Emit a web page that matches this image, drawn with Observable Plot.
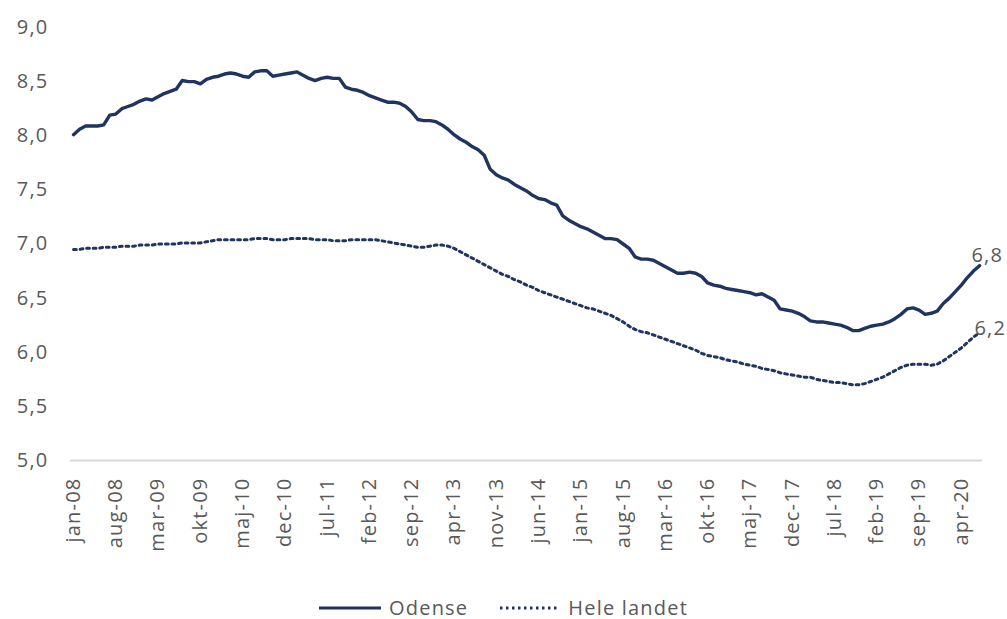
<!DOCTYPE html>
<html>
<head>
<meta charset="utf-8">
<script src="https://cdn.jsdelivr.net/npm/d3@7"></script>
<script src="https://cdn.jsdelivr.net/npm/@observablehq/plot@0.6"></script>
<style>
  body { margin: 0; background: #fff; font-family: "Open Sans", sans-serif; overflow: hidden; }
  #chart svg { display: block; }
  #legend { display: flex; justify-content: center; align-items: center; margin-top: 23px; height: 20px; line-height: 20px;
    font-size: 20px; letter-spacing: 1.2px; color: #595959; }
  #legend svg { display: block; }
</style>
</head>
<body>
<div id="chart"></div>
<div id="legend"></div>
<script>
// Monthly values, jan-08 .. jul-20
const odense = [
  8.01, 8.06, 8.09, 8.09, 8.09, 8.10, 8.19, 8.20, 8.25, 8.27,
  8.29, 8.32, 8.34, 8.33, 8.36, 8.39, 8.41, 8.43, 8.51, 8.50,
  8.50, 8.48, 8.52, 8.54, 8.55, 8.57, 8.58, 8.57, 8.55, 8.54,
  8.59, 8.60, 8.60, 8.55, 8.56, 8.57, 8.58, 8.59, 8.56, 8.53,
  8.51, 8.53, 8.54, 8.53, 8.53, 8.45, 8.43, 8.42, 8.40, 8.37,
  8.35, 8.33, 8.31, 8.31, 8.30, 8.27, 8.22, 8.15, 8.14, 8.14,
  8.13, 8.10, 8.06, 8.01, 7.97, 7.94, 7.90, 7.87, 7.82, 7.69,
  7.64, 7.61, 7.59, 7.55, 7.52, 7.49, 7.45, 7.42, 7.41, 7.38,
  7.36, 7.26, 7.22, 7.19, 7.16, 7.14, 7.11, 7.08, 7.05, 7.05,
  7.04, 7.00, 6.96, 6.88, 6.86, 6.86, 6.85, 6.82, 6.79, 6.76,
  6.73, 6.73, 6.74, 6.73, 6.70, 6.64, 6.62, 6.61, 6.59, 6.58,
  6.57, 6.56, 6.55, 6.53, 6.54, 6.51, 6.48, 6.40, 6.39, 6.38,
  6.36, 6.33, 6.29, 6.28, 6.28, 6.27, 6.26, 6.25, 6.23, 6.20,
  6.20, 6.22, 6.24, 6.25, 6.26, 6.28, 6.31, 6.35, 6.40, 6.41,
  6.39, 6.35, 6.36, 6.38, 6.45, 6.50, 6.56, 6.62, 6.69, 6.75,
  6.80
];
const heleLandet = [
  6.95, 6.95, 6.96, 6.96, 6.96, 6.97, 6.97, 6.97, 6.98, 6.98,
  6.98, 6.99, 6.99, 6.99, 7.00, 7.00, 7.00, 7.00, 7.01, 7.01,
  7.01, 7.01, 7.02, 7.03, 7.04, 7.04, 7.04, 7.04, 7.04, 7.04,
  7.05, 7.05, 7.05, 7.04, 7.04, 7.04, 7.05, 7.05, 7.05, 7.05,
  7.04, 7.04, 7.04, 7.03, 7.03, 7.03, 7.04, 7.04, 7.04, 7.04,
  7.04, 7.03, 7.02, 7.01, 7.00, 6.99, 6.98, 6.97, 6.97, 6.98,
  6.99, 6.99, 6.98, 6.96, 6.93, 6.90, 6.87, 6.84, 6.81, 6.78,
  6.75, 6.72, 6.70, 6.67, 6.65, 6.62, 6.60, 6.57, 6.55, 6.53,
  6.51, 6.49, 6.47, 6.45, 6.43, 6.41, 6.40, 6.38, 6.36, 6.34,
  6.31, 6.28, 6.24, 6.21, 6.19, 6.18, 6.16, 6.14, 6.12, 6.10,
  6.08, 6.06, 6.04, 6.02, 5.99, 5.97, 5.96, 5.95, 5.93, 5.92,
  5.91, 5.89, 5.88, 5.87, 5.85, 5.84, 5.83, 5.81, 5.80, 5.79,
  5.78, 5.77, 5.77, 5.75, 5.74, 5.73, 5.72, 5.72, 5.71, 5.70,
  5.70, 5.71, 5.73, 5.75, 5.77, 5.80, 5.83, 5.86, 5.88, 5.89,
  5.89, 5.89, 5.88, 5.89, 5.92, 5.96, 6.00, 6.04, 6.09, 6.14,
  6.18
];
const tickLabels = ["jan-08","aug-08","mar-09","okt-09","maj-10","dec-10","jul-11","feb-12",
  "sep-12","apr-13","nov-13","jun-14","jan-15","aug-15","mar-16","okt-16","maj-17","dec-17",
  "jul-18","feb-19","sep-19","apr-20"];
const tickStep = 7;
const yTicks = [5, 5.5, 6, 6.5, 7, 7.5, 8, 8.5, 9];
const seriesNames = ["Odense", "Hele landet"];
const endLabels = ["6,8", "6,2"];

const navy = "#1f3560";
const textGray = "#595959";

const dataO = odense.map((v, i) => ({i, v}));
const dataH = heleLandet.map((v, i) => ({i, v}));
const tickIdx = tickLabels.map((_, k) => k * tickStep);
const lastI = odense.length - 1;
const ends = [
  {i: lastI, v: odense[lastI], label: endLabels[0], dx: -8, dy: -10},
  {i: lastI, v: heleLandet[lastI], label: endLabels[1], dx: -5, dy: -4}
];

const chart = Plot.plot({
  width: 1007,
  height: 575,
  marginLeft: 70,
  marginRight: 25,
  marginTop: 27,
  marginBottom: 115,
  style: {fontFamily: "'Open Sans', sans-serif", fontSize: "20px", color: textGray, letterSpacing: "1.2px", background: "#fff"},
  x: {type: "linear", domain: [-0.5, odense.length - 0.5]},
  y: {domain: [5, 9]},
  marks: [
    Plot.axisY({ticks: yTicks, tickSize: 0, tickPadding: 22, tickFormat: d => d.toFixed(1).replace(".", ","), label: null, fontSize: 20}),
    Plot.axisX({ticks: tickIdx, tickSize: 0, tickPadding: 17, tickRotate: -90, tickFormat: i => tickLabels[i / tickStep], label: null, fontSize: 20}),
    Plot.ruleY([5], {stroke: "#d9d9d9", strokeWidth: 2}),
    Plot.line(dataH, {x: "i", y: "v", stroke: navy, strokeWidth: 3, strokeDasharray: "2.8 3.8"}),
    Plot.line(dataO, {x: "i", y: "v", stroke: navy, strokeWidth: 3.4, strokeLinejoin: "round"}),
    Plot.text(ends, {x: "i", y: "v", text: "label", textAnchor: "start", fill: textGray, fontSize: 20})
  ]
});
// offset each end label individually
chart.querySelectorAll("g[aria-label='text'] text").forEach((t, k) => {
  const e = ends[k];
  const tr = t.getAttribute("transform") || "";
  t.setAttribute("transform", tr + ` translate(${e.dx},${e.dy})`);
});
document.getElementById("chart").appendChild(chart);

// legend
const leg = document.getElementById("legend");
function item(dash, w, name, gapAfter) {
  const s = document.createElementNS("http://www.w3.org/2000/svg", "svg");
  s.setAttribute("width", w); s.setAttribute("height", 10);
  const l = document.createElementNS("http://www.w3.org/2000/svg", "line");
  l.setAttribute("x1", 0); l.setAttribute("x2", w); l.setAttribute("y1", 5); l.setAttribute("y2", 5);
  l.setAttribute("stroke", navy); l.setAttribute("stroke-width", 3);
  if (dash) l.setAttribute("stroke-dasharray", "2.5 3.5");
  s.appendChild(l);
  leg.appendChild(s);
  const sp = document.createElement("span");
  sp.textContent = name;
  sp.style.marginLeft = (dash ? 10 : 8) + "px";
  sp.style.marginRight = gapAfter + "px";
  leg.appendChild(sp);
}
item(false, 62, seriesNames[0], 32);
item(true, 58, seriesNames[1], 0);
</script>
</body>
</html>
